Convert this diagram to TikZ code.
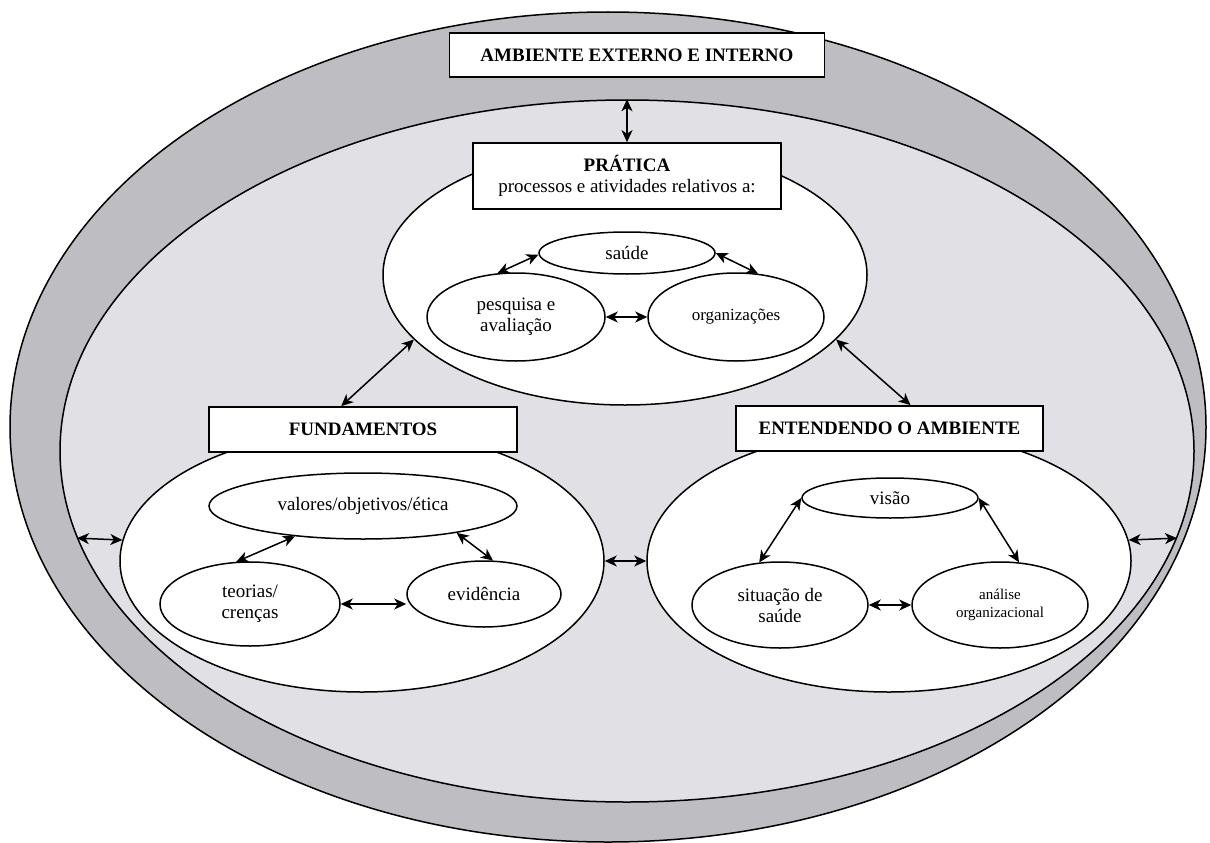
\documentclass[tikz,border=0pt]{standalone}
\usepackage{fontspec}
\setmainfont{Liberation Serif}
\usetikzlibrary{shapes.geometric,arrows.meta}

\definecolor{bandgray}{RGB}{189,189,194}
\definecolor{fieldgray}{RGB}{225,225,229}
\newcommand{\bigtext}{\fontsize{19}{21}\selectfont}

\tikzset{
  oval/.style={ellipse, draw, fill=white, line width=1.5pt, inner sep=0pt},
  labelbox/.style={rectangle, draw, fill=white, line width=1.7pt, inner sep=0pt, font=\bigtext\bfseries},
  dbl/.style={{Stealth[length=12pt,width=11pt,inset=3.5pt]}-{Stealth[length=12pt,width=11pt,inset=3.5pt]}, line width=1.5pt}
}

\begin{document}
\begin{tikzpicture}[x=1pt, y=-1pt, font=\bigtext]
        \useasboundingbox (0,0) rectangle (1210,843);

        % Draw the outer ring and the inner field
        \node[oval, fill=bandgray, minimum width=1196pt, minimum height=830pt] (outer) at (608,427) {};
        \node[oval, fill=fieldgray, minimum width=1134pt, minimum height=702pt] (inner) at (627,451) {};

        % Draw the three big ovals
        \node[oval, minimum width=484pt, minimum height=260pt] (prat) at (625,275) {};
        \node[oval, minimum width=484pt, minimum height=262pt] (fund) at (362,561) {};
        \node[oval, minimum width=484pt, minimum height=262pt] (ent) at (889,561) {};

        % Add the title boxes
        \node[labelbox, minimum width=375pt, minimum height=44pt] (amb) at (637,55) {AMBIENTE EXTERNO E INTERNO};
        \node[labelbox, font=\bigtext, minimum width=308pt, minimum height=66pt, align=center] (pbox) at (627,176) {\textbf{PRÁTICA}\\processos e atividades relativos a:};
        \node[labelbox, minimum width=308pt, minimum height=45pt] (fbox) at (363,429.5) {FUNDAMENTOS};
        \node[labelbox, minimum width=307pt, minimum height=45pt] (ebox) at (889.5,428.5) {ENTENDENDO O AMBIENTE};

        % Small ovals of the practice
        \node[oval, minimum width=176pt, minimum height=42pt] (saude) at (627,253) {saúde};
        \node[oval, minimum width=178pt, minimum height=88pt, align=center] (pesq) at (516,317) {pesquisa e\\avaliação};
        \node[oval, minimum width=176pt, minimum height=88pt, font=\fontsize{17}{19}\selectfont] (org) at (736,317) {organizações};

        % Small ovals of the foundations
        \node[oval, minimum width=308pt, minimum height=66pt] (val) at (363,506) {valores/objetivos/ética};
        \node[oval, minimum width=180pt, minimum height=84pt, align=center] (teo) at (250,604) {teorias/\\crenças};
        \node[oval, minimum width=154pt, minimum height=66pt] (evid) at (484,594) {evidência};

        % Small ovals of the environment
        \node[oval, minimum width=176pt, minimum height=40pt] (visao) at (890,498) {visão};
        \node[oval, minimum width=176pt, minimum height=86pt, align=center] (sit) at (780,605) {situação de\\saúde};
        \node[oval, minimum width=176pt, minimum height=86pt, align=center, font=\fontsize{15}{18}\selectfont] (ana) at (1000,605) {análise\\organizacional};

        % Double arrows between the parts
        \draw[dbl] (inner.north) -- (pbox.north);
        \draw[dbl] (prat.197) -- (fbox.133);
        \draw[dbl] (prat.343) -- (ebox.48);
        \draw[dbl] (inner.189) -- (fund.175);
        \draw[dbl] (fund.east) -- (ent.west);
        \draw[dbl] (ent.5) -- (inner.351);

        % Double arrows inside the ovals
        \draw[dbl] (pesq.113) -- (saude.181);
        \draw[dbl] (saude.east) -- (org.63);
        \draw[dbl] (pesq.east) -- (org.west);
        \draw[dbl] (val.204) -- (teo.108);
        \draw[dbl] (val.344) -- (evid.75);
        \draw[dbl] (teo.east) -- (teo.east -| evid.west);
        \draw[dbl] (visao.west) -- (sit.116);
        \draw[dbl] (visao.east) -- (ana.66);
        \draw[dbl] (sit.east) -- (ana.west);
      \end{tikzpicture}
\end{document}
